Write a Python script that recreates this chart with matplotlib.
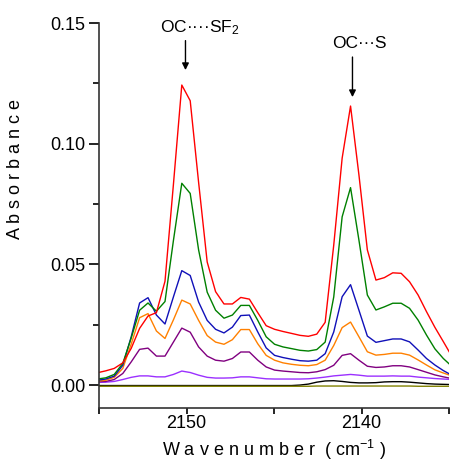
import numpy as np
import matplotlib
matplotlib.use("Agg")
import matplotlib.pyplot as plt

plt.rcParams['font.family'] = ['Liberation Sans', 'DejaVu Sans']
plt.rcParams['mathtext.fontset'] = 'custom'
plt.rcParams['mathtext.rm'] = 'Liberation Sans'
plt.rcParams['mathtext.it'] = 'Liberation Sans:italic'

# wavenumber grid (cm-1)
wavenumber = [2155.09, 2154.61, 2154.13, 2153.64, 2153.16, 2152.68, 2152.20, 2151.72,
              2151.23, 2150.75, 2150.27, 2149.79, 2149.31, 2148.82, 2148.34, 2147.86,
              2147.38, 2146.90, 2146.41, 2145.93, 2145.45, 2144.97, 2144.49, 2144.00,
              2143.52, 2143.04, 2142.56, 2142.08, 2141.59, 2141.11, 2140.63, 2140.15,
              2139.67, 2139.18, 2138.70, 2138.22, 2137.74, 2137.26, 2136.77, 2136.29,
              2135.81, 2135.33, 2134.85]

red = [0.0051, 0.0059, 0.0069, 0.0092, 0.0152, 0.0235, 0.0286, 0.0300, 0.0430, 0.0830,
       0.1243, 0.1178, 0.0840, 0.0510, 0.0387, 0.0336, 0.0336, 0.0363, 0.0356, 0.0300,
       0.0246, 0.0231, 0.0222, 0.0214, 0.0206, 0.0202, 0.0211, 0.0260, 0.0580, 0.0940,
       0.1156, 0.0870, 0.0560, 0.0435, 0.0445, 0.0465, 0.0463, 0.0428, 0.0373, 0.0304,
       0.0239, 0.0180, 0.0120]
green = [0.0025, 0.0030, 0.0044, 0.0090, 0.0195, 0.0310, 0.0340, 0.0306, 0.0346, 0.0598,
         0.0836, 0.0794, 0.0560, 0.0385, 0.0310, 0.0277, 0.0290, 0.0330, 0.0330, 0.0268,
         0.0200, 0.0169, 0.0158, 0.0151, 0.0144, 0.0141, 0.0147, 0.0178, 0.0365, 0.0697,
         0.0818, 0.0600, 0.0373, 0.0311, 0.0324, 0.0339, 0.0339, 0.0318, 0.0269, 0.0207,
         0.0150, 0.0110, 0.0078]
blue = [0.0020, 0.0025, 0.0037, 0.0082, 0.0200, 0.0340, 0.0362, 0.0290, 0.0253, 0.0365,
        0.0474, 0.0454, 0.0344, 0.0268, 0.0231, 0.0216, 0.0240, 0.0288, 0.0290, 0.0220,
        0.0154, 0.0123, 0.0114, 0.0107, 0.0101, 0.0099, 0.0103, 0.0130, 0.0220, 0.0366,
        0.0416, 0.0310, 0.0203, 0.0177, 0.0184, 0.0191, 0.0191, 0.0179, 0.0145, 0.0110,
        0.0083, 0.0060, 0.0041]
orange = [0.0016, 0.0020, 0.0032, 0.0069, 0.0170, 0.0279, 0.0296, 0.0224, 0.0193, 0.0270,
          0.0352, 0.0336, 0.0268, 0.0205, 0.0178, 0.0169, 0.0188, 0.0230, 0.0230, 0.0171,
          0.0123, 0.0103, 0.0092, 0.0086, 0.0082, 0.0080, 0.0085, 0.0103, 0.0164, 0.0238,
          0.0261, 0.0200, 0.0138, 0.0124, 0.0127, 0.0132, 0.0132, 0.0124, 0.0104, 0.0083,
          0.0063, 0.0050, 0.0038]
purple = [0.0014, 0.0015, 0.0023, 0.0048, 0.0096, 0.0148, 0.0153, 0.0120, 0.0120, 0.0178,
          0.0236, 0.0219, 0.0158, 0.0120, 0.0103, 0.0099, 0.0110, 0.0137, 0.0137, 0.0103,
          0.0075, 0.0062, 0.0058, 0.0055, 0.0052, 0.0051, 0.0055, 0.0064, 0.0082, 0.0123,
          0.0130, 0.0103, 0.0078, 0.0073, 0.0075, 0.0080, 0.0080, 0.0075, 0.0064, 0.0053,
          0.0042, 0.0034, 0.0027]
violet = [0.0011, 0.0012, 0.0015, 0.0023, 0.0032, 0.0038, 0.0038, 0.0034, 0.0034, 0.0044,
          0.0058, 0.0052, 0.0041, 0.0032, 0.0029, 0.0029, 0.0030, 0.0034, 0.0034, 0.0030,
          0.0026, 0.0025, 0.0025, 0.0025, 0.0025, 0.0026, 0.0029, 0.0033, 0.0038, 0.0041,
          0.0044, 0.0041, 0.0037, 0.0037, 0.0037, 0.0038, 0.0037, 0.0037, 0.0033, 0.0030,
          0.0027, 0.0025, 0.0023]
black = [-0.0002, -0.0002, -0.0002, -0.0002, -0.0002, -0.0002, -0.0002, -0.0002, -0.0002, -0.0002,
         -0.0002, -0.0002, -0.0002, -0.0002, -0.0002, -0.0002, -0.0002, -0.0002, -0.0002, -0.0002,
         -0.0002, -0.0002, -0.0002, -0.0002, 0.0000, 0.0004, 0.0012, 0.0017, 0.0018, 0.0015,
         0.0011, 0.0009, 0.0009, 0.0010, 0.0013, 0.0014, 0.0014, 0.0012, 0.0009, 0.0006,
         0.0004, 0.0003, 0.0002]
olive = [-0.0005, -0.0005, -0.0005, -0.0005, -0.0005, -0.0005, -0.0005, -0.0005, -0.0005, -0.0005,
         -0.0005, -0.0005, -0.0005, -0.0005, -0.0005, -0.0005, -0.0005, -0.0005, -0.0005, -0.0005,
         -0.0005, -0.0005, -0.0005, -0.0005, -0.0005, -0.0005, -0.0004, -0.0004, -0.0004, -0.0004,
         -0.0004, -0.0004, -0.0004, -0.0004, -0.0004, -0.0004, -0.0004, -0.0004, -0.0005, -0.0005,
         -0.0005, -0.0005, -0.0005]

series = [(black, '#000000'), (olive, '#808000'), (violet, '#9B30FF'), (purple, '#800080'),
          (orange, '#FF8000'), (blue, '#1010B8'), (green, '#008000'), (red, '#FF0000')]

fig = plt.figure(figsize=(4.5, 4.62), dpi=100)
ax = fig.add_axes([0.22, 0.1169, 0.778, 0.8333])

for vals, col in series:
    ax.plot(wavenumber, vals, color=col, lw=1.0)

ax.set_xlim(2155, 2135)
ax.set_ylim(-0.0095, 0.15)

ax.spines['top'].set_visible(False)
ax.spines['right'].set_visible(False)
for s in ['left', 'bottom']:
    ax.spines[s].set_linewidth(1.2)
    ax.spines[s].set_color('#333333')

ax.set_xticks([2150, 2140])
ax.set_xticks([2155, 2145, 2135], minor=True)
ax.set_yticks([0.0, 0.05, 0.10, 0.15])
ax.set_yticklabels(['0.00', '0.05', '0.10', '0.15'])
ax.set_yticks([0.025, 0.075, 0.125], minor=True)
ax.tick_params(axis='x', which='both', direction='out', length=4, width=1.2, pad=1, labelsize=13)
ax.tick_params(axis='y', which='major', direction='out', length=7, width=1.2, pad=3, labelsize=13)
ax.tick_params(axis='y', which='minor', direction='out', length=4, width=1.2)

ax.set_ylabel('A b s o r b a n c e', fontsize=13)
ax.yaxis.set_label_coords(-0.215, 0.621)
ax.set_xlabel(r'W a v e n u m b e r  ( cm$^{-1}$ )', fontsize=13)
ax.xaxis.set_label_coords(0.501, -0.078)

# peak labels with arrows
ax.text(2149.25, 0.1462, 'OC\u00b7\u00b7\u00b7\u00b7SF$_2$', fontsize=12.5, ha='center', va='baseline')
ax.annotate('', xy=(2150.06, 0.1305), xytext=(2150.06, 0.1427),
            arrowprops=dict(arrowstyle='-|>', color='black', lw=1.0, mutation_scale=10,
                            shrinkA=0, shrinkB=0))
ax.text(2140.1, 0.1395, 'OC\u00b7\u00b7\u00b7S', fontsize=12.5, ha='center', va='baseline')
ax.annotate('', xy=(2140.52, 0.1193), xytext=(2140.52, 0.1359),
            arrowprops=dict(arrowstyle='-|>', color='black', lw=1.0, mutation_scale=10,
                            shrinkA=0, shrinkB=0))

fig.savefig('out.png', dpi=100)
